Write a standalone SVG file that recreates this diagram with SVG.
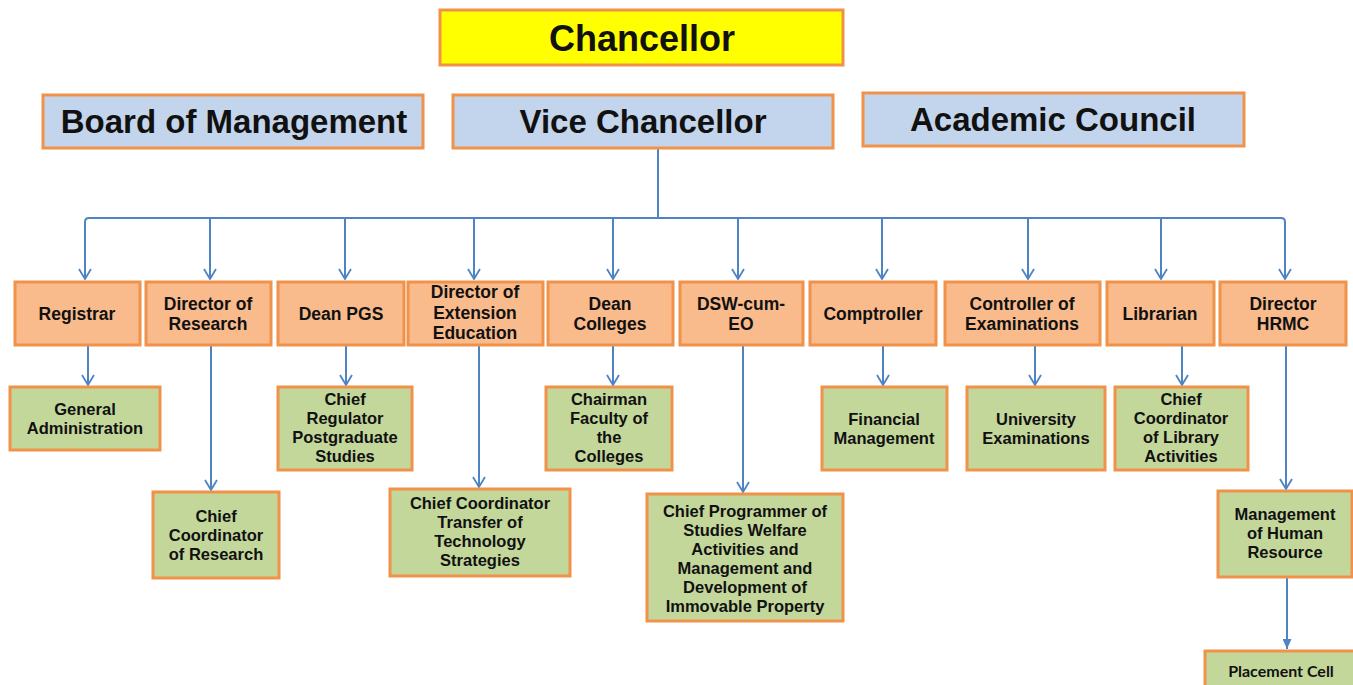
<svg xmlns="http://www.w3.org/2000/svg" width="1353" height="685" viewBox="0 0 1353 685">
<defs>
<style>
.top{stroke:#F0924A;stroke-width:3}
.yel{fill:#FFFF00}
.blue{fill:#C3D5EC}
.org{fill:#F9BA8C}
.grn{fill:#C4D79B}
.box{stroke:#F0924A;stroke-width:3}
text{font-family:"Liberation Sans",Arial,sans-serif;font-weight:bold;fill:#111;text-anchor:middle}
.big{font-size:33px}
.chan{font-size:36px}
.o{font-size:17.5px}
.g{font-size:16.5px}
.pc{font-family:Lato,"Open Sans",sans-serif;font-size:16px}
.ln{fill:none;stroke:#4F84C4;stroke-width:2}
</style>
<marker id="open" viewBox="0 0 12 14" refX="11" refY="7" markerWidth="12" markerHeight="14" markerUnits="userSpaceOnUse" orient="auto">
<path d="M1,1 L11,7 L1,13" fill="none" stroke="#4F84C4" stroke-width="1.8"/>
</marker>
<marker id="solid" viewBox="0 0 10 9" refX="10" refY="4.5" markerWidth="10" markerHeight="9" markerUnits="userSpaceOnUse" orient="auto">
<path d="M0,0 L10,4.5 L0,9 Z" fill="#4F84C4"/>
</marker>
</defs>
<rect width="1353" height="685" fill="#FFFFFF"/>

<g id="connectors">
<path class="ln" d="M658,148 V218"/>
<path class="ln" d="M85,279 V222 Q85,218 89,218 H1281 Q1285,218 1285,222 V279" marker-end="url(#open)"/>
<path class="ln" d="M85,222 V279" marker-end="url(#open)"/>
<path class="ln" d="M210,218 V279" marker-end="url(#open)"/>
<path class="ln" d="M345,218 V279" marker-end="url(#open)"/>
<path class="ln" d="M474,218 V279" marker-end="url(#open)"/>
<path class="ln" d="M613,218 V279" marker-end="url(#open)"/>
<path class="ln" d="M738,218 V279" marker-end="url(#open)"/>
<path class="ln" d="M882,218 V279" marker-end="url(#open)"/>
<path class="ln" d="M1028,218 V279" marker-end="url(#open)"/>
<path class="ln" d="M1161,218 V279" marker-end="url(#open)"/>
<path class="ln" d="M88,345 V385" marker-end="url(#open)"/>
<path class="ln" d="M211,345 V490" marker-end="url(#open)"/>
<path class="ln" d="M346,345 V385" marker-end="url(#open)"/>
<path class="ln" d="M479,345 V487" marker-end="url(#open)"/>
<path class="ln" d="M613,345 V385" marker-end="url(#open)"/>
<path class="ln" d="M743,345 V492" marker-end="url(#open)"/>
<path class="ln" d="M883,345 V385" marker-end="url(#open)"/>
<path class="ln" d="M1035,345 V385" marker-end="url(#open)"/>
<path class="ln" d="M1182,345 V385" marker-end="url(#open)"/>
<path class="ln" d="M1286,345 V489" marker-end="url(#open)"/>
<path class="ln" d="M1287,577 V649" marker-end="url(#solid)"/>
</g>

<g id="chancellor"><rect class="yel top" x="440" y="10" width="403" height="55"/><text class="chan" x="642" y="51">Chancellor</text></g>
<g id="board"><rect class="blue top" x="43" y="95" width="380" height="53"/><text class="big" x="234" y="133">Board of Management</text></g>
<g id="vc"><rect class="blue top" x="453" y="95" width="380" height="53"/><text class="big" x="643" y="133">Vice Chancellor</text></g>
<g id="academic"><rect class="blue top" x="863" y="93" width="381" height="53"/><text class="big" x="1053" y="131">Academic Council</text></g>

<g id="registrar"><rect class="org box" x="15" y="282" width="125" height="63"/><text class="o"><tspan x="77" y="320">Registrar</tspan></text></g>
<g id="dir-research"><rect class="org box" x="146" y="282" width="125" height="63"/><text class="o"><tspan x="208" y="310">Director of</tspan><tspan x="208" y="330">Research</tspan></text></g>
<g id="dean-pgs"><rect class="org box" x="278" y="282" width="126" height="63"/><text class="o"><tspan x="341" y="320">Dean PGS</tspan></text></g>
<g id="dir-ext"><rect class="org box" x="408" y="282" width="135" height="63"/><text class="o"><tspan x="475" y="298">Director of</tspan><tspan x="475" y="319">Extension</tspan><tspan x="475" y="339">Education</tspan></text></g>
<g id="dean-colleges"><rect class="org box" x="548" y="282" width="125" height="63"/><text class="o"><tspan x="610" y="310">Dean</tspan><tspan x="610" y="330">Colleges</tspan></text></g>
<g id="dsw"><rect class="org box" x="680" y="282" width="123" height="63"/><text class="o"><tspan x="741" y="310">DSW-cum-</tspan><tspan x="741" y="330">EO</tspan></text></g>
<g id="comptroller"><rect class="org box" x="810" y="282" width="126" height="63"/><text class="o"><tspan x="873" y="320">Comptroller</tspan></text></g>
<g id="controller"><rect class="org box" x="945" y="282" width="155" height="63"/><text class="o"><tspan x="1022" y="310">Controller of</tspan><tspan x="1022" y="330">Examinations</tspan></text></g>
<g id="librarian"><rect class="org box" x="1107" y="282" width="107" height="63"/><text class="o"><tspan x="1160" y="320">Librarian</tspan></text></g>
<g id="dir-hrmc"><rect class="org box" x="1220" y="282" width="126" height="63"/><text class="o"><tspan x="1283" y="310">Director</tspan><tspan x="1283" y="330">HRMC</tspan></text></g>

<g id="gen-admin"><rect class="grn box" x="10" y="387" width="150" height="63"/><text class="g"><tspan x="85" y="415">General</tspan><tspan x="85" y="434">Administration</tspan></text></g>
<g id="cc-research"><rect class="grn box" x="153" y="492" width="126" height="86"/><text class="g"><tspan x="216" y="522">Chief</tspan><tspan x="216" y="541">Coordinator</tspan><tspan x="216" y="560">of Research</tspan></text></g>
<g id="chief-reg"><rect class="grn box" x="278" y="387" width="134" height="83"/><text class="g"><tspan x="345" y="405">Chief</tspan><tspan x="345" y="424">Regulator</tspan><tspan x="345" y="443">Postgraduate</tspan><tspan x="345" y="462">Studies</tspan></text></g>
<g id="cc-transfer"><rect class="grn box" x="390" y="489" width="180" height="87"/><text class="g"><tspan x="480" y="509">Chief Coordinator</tspan><tspan x="480" y="528">Transfer of</tspan><tspan x="480" y="547">Technology</tspan><tspan x="480" y="566">Strategies</tspan></text></g>
<g id="chairman"><rect class="grn box" x="546" y="387" width="126" height="83"/><text class="g"><tspan x="609" y="405">Chairman</tspan><tspan x="609" y="424">Faculty of</tspan><tspan x="609" y="443">the</tspan><tspan x="609" y="462">Colleges</tspan></text></g>
<g id="chief-prog"><rect class="grn box" x="647" y="494" width="196" height="127"/><text class="g"><tspan x="745" y="517">Chief Programmer of</tspan><tspan x="745" y="536">Studies Welfare</tspan><tspan x="745" y="555">Activities and</tspan><tspan x="745" y="574">Management and</tspan><tspan x="745" y="593">Development of</tspan><tspan x="745" y="612">Immovable Property</tspan></text></g>
<g id="fin-mgmt"><rect class="grn box" x="822" y="387" width="125" height="83"/><text class="g"><tspan x="884" y="425">Financial</tspan><tspan x="884" y="444">Management</tspan></text></g>
<g id="univ-exam"><rect class="grn box" x="967" y="387" width="138" height="83"/><text class="g"><tspan x="1036" y="425">University</tspan><tspan x="1036" y="444">Examinations</tspan></text></g>
<g id="cc-library"><rect class="grn box" x="1115" y="387" width="133" height="83"/><text class="g"><tspan x="1181" y="405">Chief</tspan><tspan x="1181" y="424">Coordinator</tspan><tspan x="1181" y="443">of Library</tspan><tspan x="1181" y="462">Activities</tspan></text></g>
<g id="mhr"><rect class="grn box" x="1218" y="491" width="134" height="86"/><text class="g"><tspan x="1285" y="520">Management</tspan><tspan x="1285" y="539">of Human</tspan><tspan x="1285" y="558">Resource</tspan></text></g>
<g id="placement"><rect class="grn box" x="1205" y="651" width="160" height="50"/><text class="pc"><tspan x="1281" y="677">Placement Cell</tspan></text></g>
</svg>
